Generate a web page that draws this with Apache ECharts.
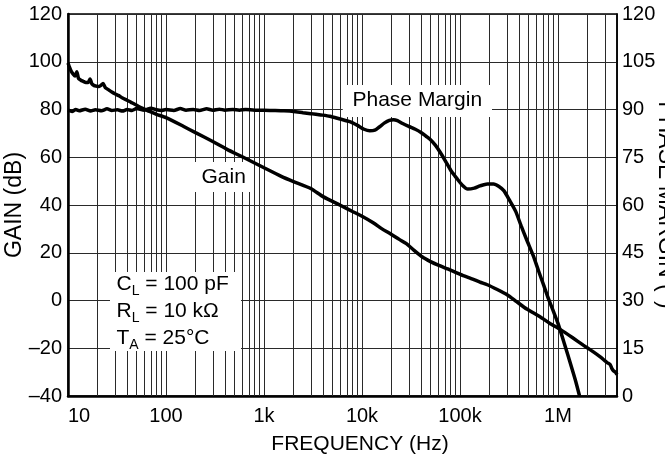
<!DOCTYPE html>
<html>
<head>
<meta charset="utf-8">
<style>
html,body{margin:0;padding:0;background:#fff;}
#c{width:665px;height:455px;}
</style>
<script src="https://cdn.jsdelivr.net/npm/echarts@6/dist/echarts.min.js"></script>
</head>
<body>
<div id="c"></div>
<script>
// ---- data ----
const xTickValues = [10, 100, 1000, 10000, 100000, 1000000];
const xTickLabels = ['10', '100', '1k', '10k', '100k', '1M'];

const gainFreq = [10, 10.4, 10.8, 11.3, 11.8, 12.3, 12.8, 13.5, 14.3, 15.2, 16.2, 16.8, 17.5, 18.5, 19.5, 20.5, 21.5, 22.8, 24, 26, 28, 30, 33, 36, 40, 44, 48, 54, 60, 68, 80, 100,
  150, 200, 300, 420, 600, 1000, 1500, 2000, 3000, 4000, 6000, 8000, 10000, 13000, 16000, 19300, 24000, 28100, 34000, 41000, 50000, 60000, 75000, 88000, 110000, 130000, 160000, 190000, 240000, 300000, 378000, 480000, 655000, 820000, 1050000, 1400000, 1810000, 2200000, 2700000, 3000000, 3200000, 3400000, 3550000, 3700000, 3850000, 4000000];
const gainDb = [99.5, 97.5, 96.0, 94.8, 94.0, 95.8, 93.0, 92.3, 91.8, 91.3, 91.5, 92.8, 90.8, 90.0, 89.8, 89.6, 90.0, 90.9, 89.2, 88.2, 87.3, 86.6, 85.8, 84.8, 83.9, 83.0, 82.2, 81.0, 80.2, 79.2, 78.0, 76.6,
  73.0, 70.3, 66.6, 63.3, 60.2, 55.6, 52.0, 49.8, 46.9, 43.5, 39.9, 37.3, 35.3, 32.6, 30.0, 28.1, 25.6, 23.9, 21.0, 18.3, 16.3, 14.8, 13.2, 12.0, 10.3, 9.2, 7.7, 6.6, 4.6, 2.5, -0.5, -3.6, -6.8, -9.5, -12.1, -15.5, -18.7, -21.0, -23.6, -25.2, -26.1, -26.8, -28.5, -29.5, -30.0, -31.0];

const phaseFreq = [10, 11, 12, 13, 15, 17, 19, 22, 25, 28, 32, 36, 40, 45, 50, 60, 70, 80, 90, 100, 120, 140, 160, 190, 220, 260, 300, 350, 400, 480, 560, 650, 800, 1000, 1300, 1600, 2000, 2500, 3000, 3800, 4700, 6000, 7500, 9000, 10500, 12000, 13500, 15000, 17000, 19000, 21000, 23000, 26000, 30000, 35000, 40000, 45000, 50000, 56000, 63000, 72000, 82000, 92000, 105000, 120000, 140000, 160000, 190000, 220000, 250000, 280000, 320000, 370000, 420000, 480000, 560000, 630000, 720000, 800000, 900000, 1000000, 1160000, 1370000, 1520000, 1660000];
const phaseDeg = [89.8, 89.4, 90.0, 89.6, 90.1, 89.5, 89.9, 89.6, 90.2, 89.7, 89.9, 89.5, 90.0, 89.7, 90.3, 89.8, 90.4, 89.9, 89.7, 90.0, 89.7, 90.3, 89.8, 90.0, 89.7, 90.2, 89.8, 90.1, 89.8, 90.0, 89.8, 90.0, 89.8, 89.8, 89.7, 89.6, 89.4, 89.0, 88.7, 88.3, 87.9, 87.0, 86.2, 85.0, 83.8, 83.3, 83.5, 84.5, 85.8, 86.6, 86.8, 86.5, 85.6, 84.7, 83.8, 82.8, 81.6, 80.5, 78.8, 76.5, 73.5, 70.5, 68.5, 66.3, 65.0, 65.3, 66.0, 66.6, 66.6, 65.8, 64.5, 61.5, 58.0, 53.5, 49.0, 44.0, 39.5, 34.5, 30.5, 26.5, 22.8, 16.5, 9.2, 4.5, 0];

const minorMultipliers = [2, 3, 4, 5, 6, 7, 8, 9];
const decades = [10, 100, 1000, 10000, 100000, 1000000];

// ---- build ----
const FONT = "'Liberation Sans', Arial, Helvetica, sans-serif";
const gridFreqs = [];
decades.forEach(d => minorMultipliers.forEach(m => { const f = d * m; if (f < 4000000) gridFreqs.push(f); }));

function zip(a, b) { return a.map((v, i) => [v, b[i]]); }

function xFmt(v) {
  for (let i = 0; i < xTickValues.length; i++) {
    if (Math.abs(v - xTickValues[i]) / xTickValues[i] < 1e-6) return xTickLabels[i];
  }
  return '';
}
function yFmt(v) { return v < 0 ? '\u2013' + Math.abs(v) : String(v); }

const chart = echarts.init(document.getElementById('c'), null, { renderer: 'canvas' });
const gridColor = '#2a2a2a';

chart.setOption({
  animation: false,
  backgroundColor: '#ffffff',
  textStyle: { fontFamily: FONT },
  grid: { left: 68, right: 48, top: 14, bottom: 59, show: true, borderColor: '#000', borderWidth: 1.5, backgroundColor: 'transparent', containLabel: false, outerBoundsMode: 'none' },
  xAxis: {
    type: 'log', logBase: 10, min: 10, max: 4000000,
    axisLine: { show: true, onZero: false, lineStyle: { color: '#000', width: 2.5 } },
    axisTick: { show: false },
    splitLine: { show: true, lineStyle: { color: gridColor, width: 1 } },
    axisLabel: { formatter: xFmt, fontSize: 20, color: '#000', margin: 10, fontFamily: FONT, alignMinLabel: 'left' },
    name: 'FREQUENCY (Hz)', nameLocation: 'middle', nameGap: 38,
    nameTextStyle: { fontSize: 21, color: '#000', fontFamily: FONT, padding: [0, 0, 0, 35] }
  },
  yAxis: [
    {
      type: 'value', min: -40, max: 120, interval: 20, position: 'left',
      axisLine: { show: true, lineStyle: { color: '#000', width: 2.5 } },
      axisTick: { show: false },
      splitLine: { show: true, lineStyle: { color: gridColor, width: 1 } },
      axisLabel: { formatter: yFmt, fontSize: 20, color: '#000', margin: 6, fontFamily: FONT },
      name: 'GAIN (dB)', nameLocation: 'middle', nameGap: 42, nameRotate: 90, nameMoveOverlap: false,
      nameTextStyle: { fontSize: 23, color: '#000', fontFamily: FONT }
    },
    {
      type: 'value', min: 0, max: 120, interval: 15, position: 'right',
      axisLine: { show: true, lineStyle: { color: '#000', width: 1.5 } },
      axisTick: { show: false },
      splitLine: { show: false },
      axisLabel: { fontSize: 20, color: '#000', margin: 5, fontFamily: FONT },
      name: 'PHASE MARGIN (\u00b0)', nameLocation: 'middle', nameGap: 37, nameRotate: -90, nameMoveOverlap: false,
      nameTextStyle: { fontSize: 23, color: '#000', fontFamily: FONT }
    }
  ],
  graphic: [
    { type: 'rect', z: 20, shape: { x: 190, y: 162, width: 64, height: 30 }, style: { fill: '#fff' } },
    { type: 'text', z: 21, x: 201.5, y: 177.5, style: { text: 'Gain', fontSize: 21, fontFamily: FONT, fill: '#000', verticalAlign: 'middle', align: 'left' } },
    { type: 'rect', z: 20, shape: { x: 343, y: 85, width: 149, height: 32 }, style: { fill: '#fff' } },
    { type: 'text', z: 21, x: 352.5, y: 100.2, style: { text: 'Phase Margin', fontSize: 21, fontFamily: FONT, fill: '#000', verticalAlign: 'middle', align: 'left' } },
    { type: 'rect', z: 20, shape: { x: 110, y: 272, width: 131, height: 79 }, style: { fill: '#fff' } },
    {
      type: 'text', z: 21, x: 116.5, y: 271,
      style: {
        text: '{a|C}{s|L}{a| = 100 pF}\n{a|R}{s|L}{a| = 10 k\u03a9}\n{a|T}{s|A}{a| = 25\u00b0C}',
        fontFamily: FONT, fill: '#000', verticalAlign: 'top', align: 'left',
        rich: {
          a: { fontSize: 21, lineHeight: 27, fontFamily: FONT, fill: '#000' },
          s: { fontSize: 14, lineHeight: 14, verticalAlign: 'bottom', fontFamily: FONT, fill: '#000' }
        }
      }
    }
  ],
  series: [
    {
      name: 'grid', type: 'line', z: 1, data: zip(gainFreq, gainDb), symbol: 'none', silent: true,
      lineStyle: { opacity: 0 },
      markLine: {
        z: 1, silent: true, symbol: 'none', animation: false, label: { show: false },
        lineStyle: { color: gridColor, width: 1, type: 'solid' },
        emphasis: { disabled: true },
        data: gridFreqs.map(f => ({ xAxis: f }))
      }
    },
    {
      name: 'Gain', type: 'line', z: 30, yAxisIndex: 0, data: zip(gainFreq, gainDb),
      symbol: 'none', smooth: 0.2, lineStyle: { color: '#000', width: 3.5 }
    },
    {
      name: 'Phase Margin', type: 'line', z: 30, yAxisIndex: 1, data: zip(phaseFreq, phaseDeg),
      symbol: 'none', smooth: 0.2, lineStyle: { color: '#000', width: 3.5 }
    }
  ]
});
</script>
</body>
</html>
